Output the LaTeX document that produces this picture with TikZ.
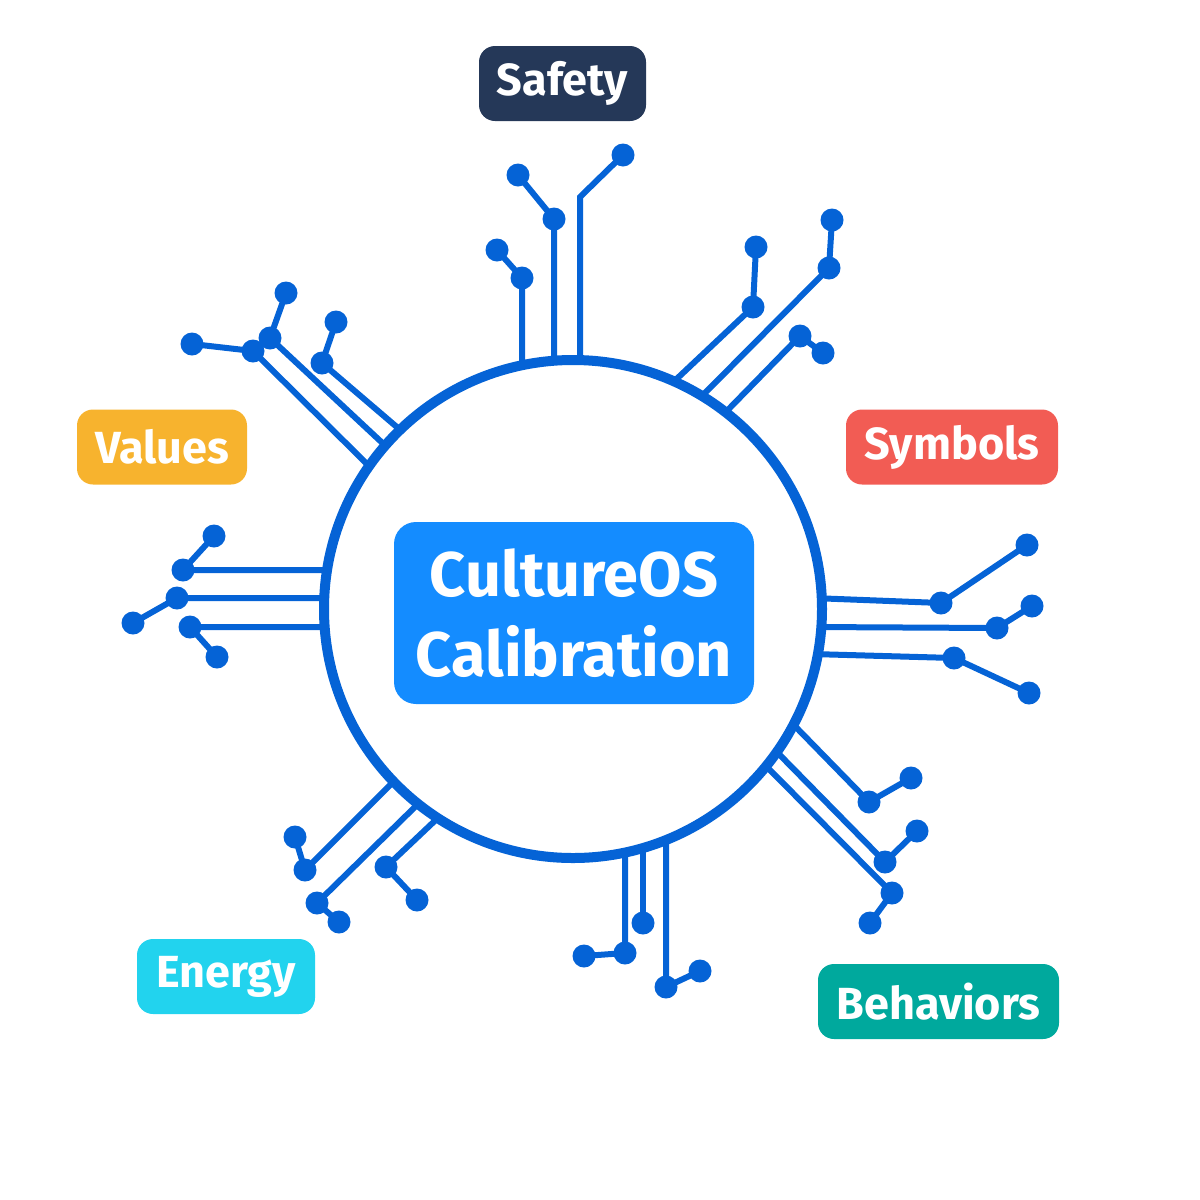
\documentclass[tikz,border=0pt]{standalone}
\usepackage{fontspec}
\setmainfont{Fira Sans}
\definecolor{wire}{RGB}{5,99,214}
\definecolor{core}{RGB}{20,140,255}
\definecolor{navy}{RGB}{37,56,88}
\definecolor{amber}{RGB}{247,179,46}
\definecolor{coral}{RGB}{242,92,84}
\definecolor{cyan}{RGB}{34,211,238}
\definecolor{teal}{RGB}{0,169,157}
\tikzstyle{trace} = [draw=wire, line width=3pt]
\tikzstyle{pad} = [circle, fill=wire, inner sep=0pt, minimum size=11.5pt]
\tikzstyle{tag} = [rectangle, rounded corners=8pt, text=white, font=\fontsize{22.5}{26}\selectfont\bfseries, minimum height=37.5pt]

\begin{document}
\begin{tikzpicture}[x=0.5pt, y=-0.5pt]
	
	\useasboundingbox (0,0) rectangle (1200,1200);
	% circuit traces: circle end / pad / tip
	\foreach \n/\ex/\ey/\px/\py/\tx/\ty in {
		1/522/370/522/278/497/250,
		2/554/370/554/219/518/175,
		4/667/388/753/307/756/247,
		5/697/401/829/268/832/220,
		6/720/418/800/336/823/353,
		7/373/470/253/351/192/344,
		8/391/451/270/338/286/293,
		9/405/434/322/363/336/322,
		10/335/570/183/570/214/536,
		11/335/598/177/598/133/623,
		12/335/627/190/627/217/657,
		13/812/598/941/603/1027/545,
		14/812/627/997/628/1032/606,
		15/812/654/954/658/1029/693,
		16/789/720/869/802/911/778,
		17/772/747/885/862/917/831,
		18/762/762/892/893/870/923,
		19/625/840/625/953/584/956,
		21/666/830/666/987/700/971,
		22/396/779/305/870/295/837,
		23/420/802/317/903/339/922,
		24/441/815/386/867/417/900}{
		\coordinate (e\n) at (\ex,\ey);
		\node[pad] (p\n) at (\px,\py) {};
		\node[pad] (t\n) at (\tx,\ty) {};
		\draw[trace] (e\n) -- (p\n.center) -- (t\n.center);
	}
	\coordinate (e3) at (580,370);
	\coordinate (k3) at (580,197);
	\node[pad] (t3) at (623,155) {};
	\draw[trace] (e3) -- (k3) -- (t3.center);
	\coordinate (e20) at (643,840);
	\node[pad] (p20) at (643,923) {};
	\draw[trace] (e20) -- (p20.center);
	
	% ring and core
	\node[circle, draw=wire, fill=white, line width=5pt, minimum size=249pt] (ring) at (573,609) {};
	\node[rectangle, rounded corners=11pt, fill=core, text=white, minimum width=180pt, minimum height=91pt, align=center, font=\fontsize{31.5}{40}\selectfont\bfseries] (calib) at (574,613) {CultureOS\\Calibration};
	
	% dimension tags
	\node[tag, fill=navy, minimum width=83.5pt] (safety) at (562.5,83.5) {Safety};
	\node[tag, fill=amber, minimum width=85pt] (values) at (162,447) {Values};
	\node[tag, fill=coral, minimum width=106pt] (symbols) at (952,447) {Symbols};
	\node[tag, fill=cyan, minimum width=89pt] (energy) at (226,976.5) {Energy};
	\node[tag, fill=teal, minimum width=120.5pt] (behaviors) at (938.5,1001.5) {Behaviors};
\end{tikzpicture}
\end{document}
